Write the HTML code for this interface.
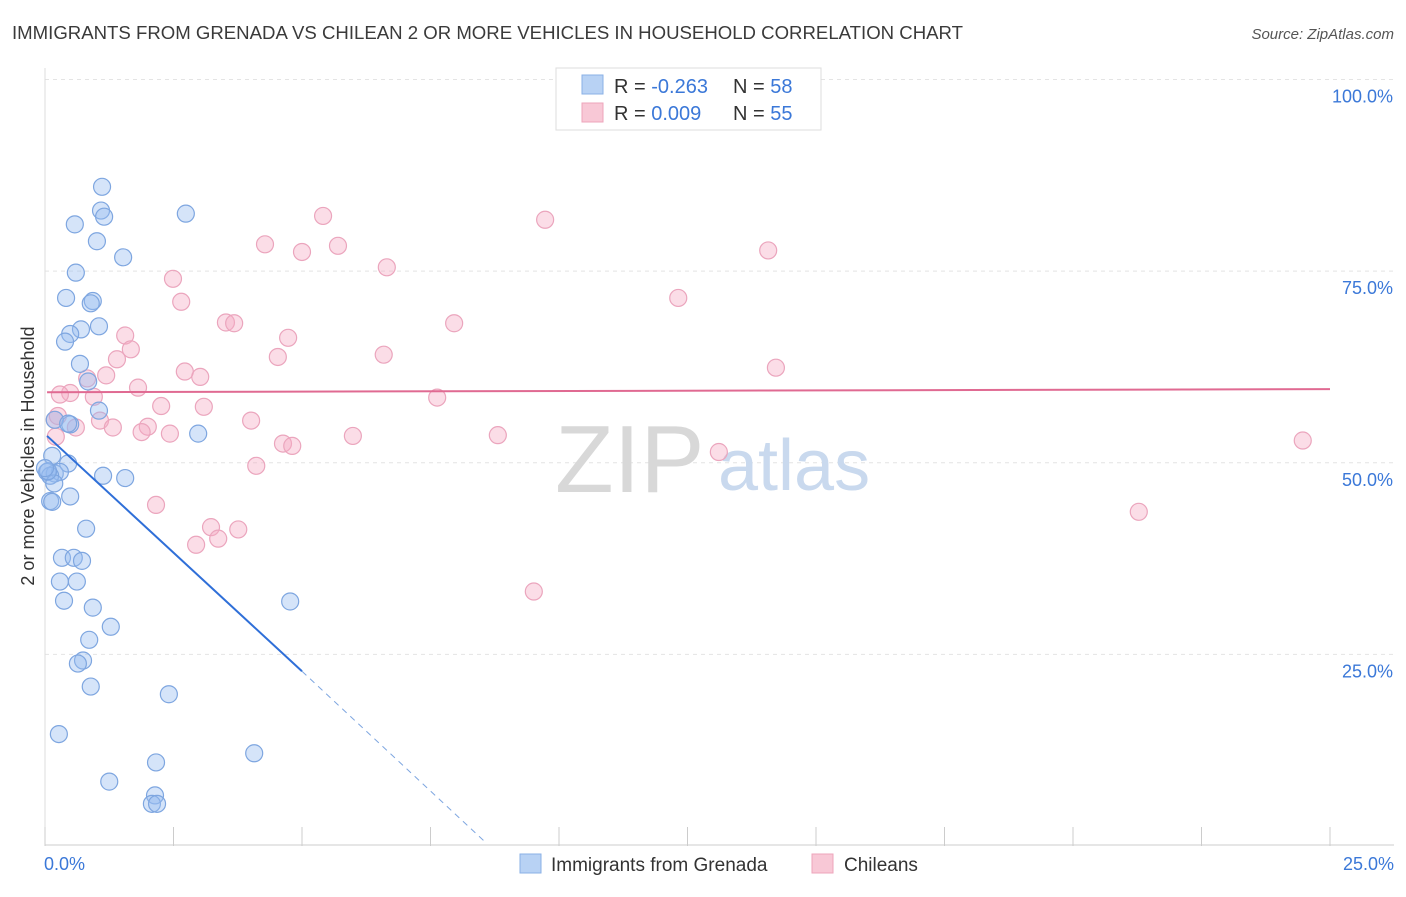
<!DOCTYPE html>
<html><head><meta charset="utf-8"><style>
body{margin:0;background:#fff;font-family:"Liberation Sans",sans-serif;}
svg text{font-family:"Liberation Sans",sans-serif;}
</style></head><body>
<svg id="chart" width="1406" height="892" viewBox="0 0 1406 892" xmlns="http://www.w3.org/2000/svg">
<text x="12" y="39" font-size="18" fill="#3a3a3a" textLength="951" lengthAdjust="spacingAndGlyphs">IMMIGRANTS FROM GRENADA VS CHILEAN 2 OR MORE VEHICLES IN HOUSEHOLD CORRELATION CHART</text>
<text x="1394" y="39" font-size="15" fill="#555" font-style="italic" text-anchor="end">Source: ZipAtlas.com</text>
<g id="grid"></g>
<g>
<text x="555" y="492" font-size="96" fill="#d8d8d8" font-family="Liberation Serif">ZIP</text>
<text x="718" y="490" font-size="72" fill="#c9d9ee">atlas</text>
</g>
<text transform="translate(34,456) rotate(-90)" font-size="18" fill="#333" text-anchor="middle">2 or more Vehicles in Household</text>
<g id="pts"></g>
<g id="trends"></g>
<g>
<rect x="556" y="68" width="265" height="62" fill="#fff" stroke="#ddd"/>
<rect x="582" y="75" width="21" height="19" fill="#b8d2f4" stroke="#8ab0e6"/>
<rect x="582" y="103" width="21" height="19" fill="#f8c8d6" stroke="#eea5bb"/>
<text x="614" y="93" font-size="20" fill="#333">R = <tspan fill="#3b78d8">-0.263</tspan></text>
<text x="733" y="93" font-size="20" fill="#333">N = <tspan fill="#3b78d8">58</tspan></text>
<text x="614" y="120" font-size="20" fill="#333">R = <tspan fill="#3b78d8"> 0.009</tspan></text>
<text x="733" y="120" font-size="20" fill="#333">N = <tspan fill="#3b78d8">55</tspan></text>
</g>
<g>
<rect x="520" y="854" width="21" height="19" fill="#b8d2f4" stroke="#8ab0e6"/>
<text x="551" y="871" font-size="19" fill="#333">Immigrants from Grenada</text>
<rect x="812" y="854" width="21" height="19" fill="#f8c8d6" stroke="#eea5bb"/>
<text x="844" y="871" font-size="19" fill="#333">Chileans</text>
</g>
</svg>
<script>
const yTicks=[25,50,75,100];
const yTickLabels=["25.0%","50.0%","75.0%","100.0%"];
const xTickLabels=["0.0%","25.0%"];
const grenadaX=[1.11,1.09,1.15,0.58,2.74,1.01,1.52,0.6,0.41,0.93,0.89,1.05,0.7,0.49,0.39,0.68,0.84,1.05,0.49,0.19,0.45,2.98,0.14,0.45,0.04,0.19,0.29,0.1,1.13,1.56,0.18,0.49,0.1,0.8,0.33,0.56,0.72,0.29,0.62,0.37,0.93,1.28,0.86,4.77,0.74,0.64,0.89,2.41,0.27,4.07,2.16,1.25,2.14,2.08,2.18,0.06,0.14,0.0];
const grenadaY=[86.0,82.9,82.1,81.1,82.5,78.9,76.8,74.8,71.5,71.1,70.8,67.8,67.4,66.8,65.8,62.9,60.6,56.8,55.0,55.6,55.1,53.8,50.9,49.9,48.8,48.6,48.8,48.3,48.3,48.0,47.3,45.6,45.0,41.4,37.6,37.6,37.2,34.5,34.5,32.0,31.1,28.6,26.9,31.9,24.2,23.8,20.8,19.8,14.6,12.1,10.9,8.4,6.6,5.5,5.5,48.9,44.9,49.3];
const chileX=[5.41,9.73,4.28,5.0,5.7,14.07,6.65,2.49,2.65,12.32,3.52,3.68,7.96,1.56,4.73,1.67,1.4,4.53,6.59,14.22,2.72,3.02,1.19,0.82,1.81,0.49,0.95,7.63,2.26,3.09,0.19,1.07,0.6,1.32,2.0,1.88,4.01,2.43,5.99,8.81,4.63,4.81,24.47,13.11,4.11,2.16,21.28,3.23,3.76,2.94,3.37,9.51,0.25,0.21,0.29];
const chileY=[82.2,81.7,78.5,77.5,78.3,77.7,75.5,74.0,71.0,71.5,68.3,68.2,68.2,66.6,66.3,64.8,63.5,63.8,64.1,62.4,61.9,61.2,61.4,61.0,59.8,59.1,58.6,58.5,57.4,57.3,55.6,55.5,54.6,54.6,54.7,54.0,55.5,53.8,53.5,53.6,52.5,52.2,52.9,51.4,49.6,44.5,43.6,41.6,41.3,39.3,40.1,33.2,56.1,53.4,58.9];
const grenadaTrend=[[0.04,53.5],[5.0,22.8],[8.6,0.3]];
const chileTrend=[[0.04,59.2],[25,59.6]];
const X0=45,X1=1330,Y0=846,Y100=79.5;
const sx=v=>X0+(v/25)*(X1-X0);
const sy=v=>Y0-(v/100)*(Y0-Y100);
const NS="http://www.w3.org/2000/svg";
function mk(t,a,p){const e=document.createElementNS(NS,t);for(const k in a)e.setAttribute(k,a[k]);p.appendChild(e);return e;}
const grid=document.getElementById('grid');
yTicks.forEach((t,i)=>{
 const l=mk('line',{x1:X0,x2:1394,y1:sy(t),y2:sy(t),stroke:'#e4e4e4','stroke-dasharray':'4,4'},grid);
 
 
 const tx=mk('text',{x:1393,y:sy(t)+23,'font-size':18,fill:'#3b78d8','text-anchor':'end'},grid);
 tx.textContent=yTickLabels[i];
 
 
});
const ax=mk('line',{x1:X0,x2:1394,y1:Y0-1,y2:Y0-1,stroke:'#ccc'},grid);


const ay=mk('line',{x1:X0,x2:X0,y1:68,y2:Y0,stroke:'#ddd'},grid);


for(let i=0;i<=10;i++){const x=X0+i*(X1-X0)/10;
 const t=mk('line',{x1:x,x2:x,y1:827,y2:Y0,stroke:'#ccc'},grid);
 
 }
[[0,'start',44],[25,'end',1394]].forEach((d,i)=>{
 const tx=mk('text',{x:d[2],y:870,'font-size':18,fill:'#3b78d8','text-anchor':d[1]},grid);
 tx.textContent=xTickLabels[i];
 
 });
const pts=document.getElementById('pts');
chileX.forEach((v,i)=>{const c=mk('circle',{cx:sx(v),cy:sy(chileY[i]),r:8.5,fill:'rgba(245,170,195,0.4)',stroke:'#eba5bd','stroke-width':1.2},pts);
 
 });
grenadaX.forEach((v,i)=>{const c=mk('circle',{cx:sx(v),cy:sy(grenadaY[i]),r:8.5,fill:'rgba(150,188,240,0.4)',stroke:'#7ea6e0','stroke-width':1.2},pts);
 
 });
const tr=document.getElementById('trends');
const g1=mk('line',{x1:sx(grenadaTrend[0][0]),y1:sy(grenadaTrend[0][1]),x2:sx(grenadaTrend[1][0]),y2:sy(grenadaTrend[1][1]),stroke:'#2f6fd8','stroke-width':2},tr);


const g2=mk('line',{x1:sx(grenadaTrend[1][0]),y1:sy(grenadaTrend[1][1]),x2:sx(grenadaTrend[2][0]),y2:sy(grenadaTrend[2][1]),stroke:'#7ea6e0','stroke-width':1,'stroke-dasharray':'6,5'},tr);


const c1=mk('line',{x1:sx(chileTrend[0][0]),y1:sy(chileTrend[0][1]),x2:sx(chileTrend[1][0]),y2:sy(chileTrend[1][1]),stroke:'#e06a92','stroke-width':2},tr);


</script>
</body></html>
